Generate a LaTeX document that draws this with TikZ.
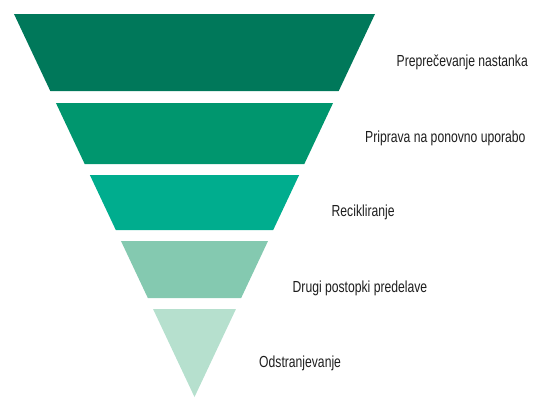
\documentclass[tikz,border=0pt]{standalone}
\usepackage{fontspec}
\setmainfont{Liberation Sans}[FakeStretch=0.76]
\definecolor{lvA}{RGB}{0,120,90}
\definecolor{lvB}{RGB}{0,150,110}
\definecolor{lvC}{RGB}{0,173,142}
\definecolor{lvD}{RGB}{132,201,176}
\definecolor{lvE}{RGB}{182,224,206}
\definecolor{labelgray}{RGB}{30,30,30}
\tikzset{
  lbl/.style={anchor=west, inner sep=0pt, text=labelgray, font=\fontsize{16}{19}\selectfont},
  band/.style={draw=none}
}
\begin{document}
\begin{tikzpicture}[x=1pt, y=-1pt]
\useasboundingbox (0,0) rectangle (540,397);
% inverted triangle: top edge at y=14 from x=14 to 375, apex at (194.5,397);
% half-width at height y is 0.47128*(397-y)
\foreach \ya/\yb/\col in {14/91/lvA, 103/164/lvB, 175/230/lvC, 241/298/lvD, 309/397/lvE}{
  \pgfmathsetmacro{\wa}{0.47128*(397-\ya)}
  \pgfmathsetmacro{\wb}{0.47128*(397-\yb)}
  \fill[band, \col] ({194.5-\wa},\ya) -- ({194.5+\wa},\ya)
    -- ({194.5+\wb},\yb) -- ({194.5-\wb},\yb) -- cycle;
}
\node[lbl] (l1) at (396.5,62) {Preprečevanje nastanka};
\node[lbl] (l2) at (365,138) {Priprava na ponovno uporabo};
\node[lbl] (l3) at (331.5,212) {Recikliranje};
\node[lbl] (l4) at (292.5,288.5) {Drugi postopki predelave};
\node[lbl] (l5) at (259,363) {Odstranjevanje};
\end{tikzpicture}
\end{document}
